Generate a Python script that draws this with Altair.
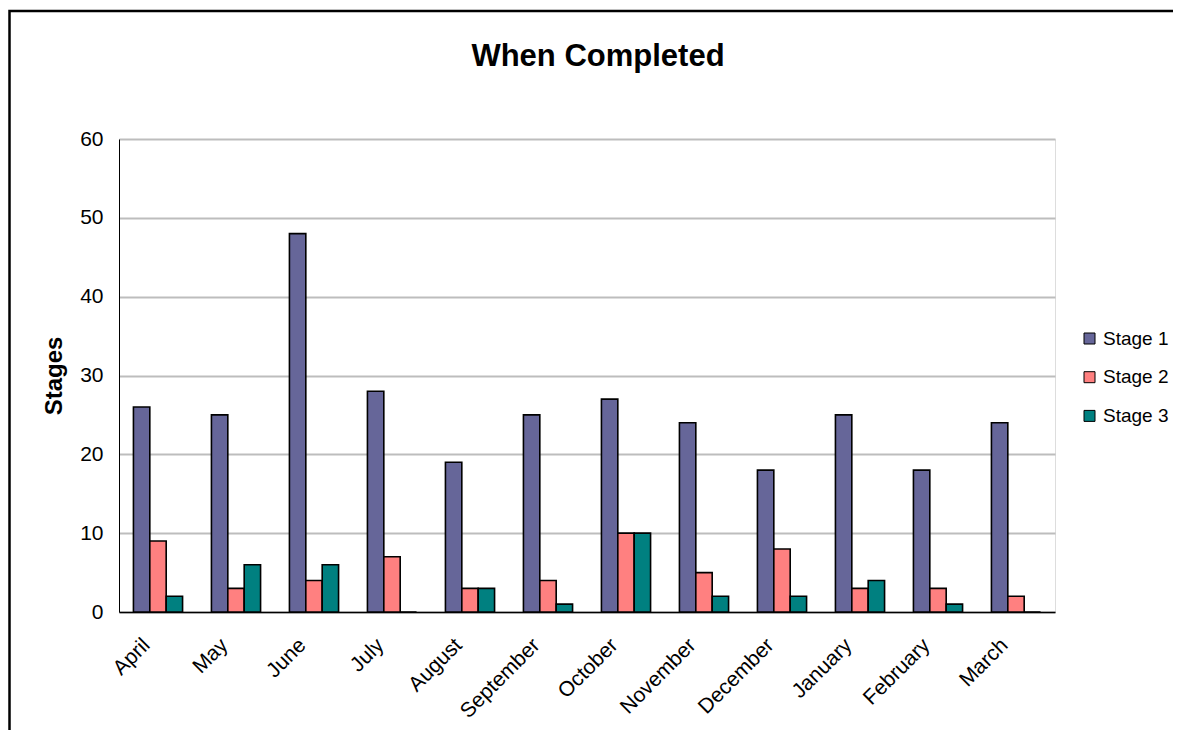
import altair as alt
import pandas as pd

months = ["April", "May", "June", "July", "August", "September", "October",
          "November", "December", "January", "February", "March"]
series = ["Stage 1", "Stage 2", "Stage 3"]
stage1 = [26, 25, 48, 28, 19, 25, 27, 24, 18, 25, 18, 24]
stage2 = [9, 3, 4, 7, 3, 4, 10, 5, 8, 3, 3, 2]
stage3 = [2, 6, 6, 0, 3, 1, 10, 2, 2, 4, 1, 0]
colors = ["#666699", "#FF8080", "#008080"]
y_ticks = [0, 10, 20, 30, 40, 50, 60]

rows = []
for name, vals in zip(series, [stage1, stage2, stage3]):
    for m, v in zip(months, vals):
        rows.append({"Month": m, "Stage": name, "Value": v})
df = pd.DataFrame(rows)

FONT = "Liberation Sans"
W, H = 936, 473

bars = alt.Chart(df).mark_bar(stroke="black", strokeWidth=1.6).encode(
    x=alt.X("Month:N", sort=months,
            scale=alt.Scale(paddingInner=0.37, paddingOuter=0.185),
            axis=alt.Axis(title=None, labelAngle=315, labelAlign="right",
                          labelBaseline="top", labelPadding=22, labelOffset=-19,
                          ticks=False, tickSize=0, grid=False,
                          domainColor="black", domainWidth=1.5,
                          labelFont=FONT, labelFontSize=21, labelColor="black")),
    xOffset=alt.XOffset("Stage:N", sort=series,
                        scale=alt.Scale(paddingInner=0, paddingOuter=0)),
    y=alt.Y("Value:Q", scale=alt.Scale(domain=[0, 60], nice=False),
            axis=alt.Axis(title="Stages", values=y_ticks, ticks=False, tickSize=0,
                          labelPadding=16, labelFont=FONT, labelFontSize=21,
                          labelColor="black", grid=True, gridColor="#BDBDBD",
                          gridWidth=2, domainColor="black", domainWidth=1,
                          titleFont=FONT, titleFontSize=24, titleFontWeight="bold",
                          titleColor="black", titleX=-58, titleY=H / 2,
                          titleBaseline="alphabetic", titleAngle=270)),
    color=alt.Color("Stage:N", sort=series,
                    scale=alt.Scale(domain=series, range=colors),
                    legend=alt.Legend(title=None, orient="none", legendX=961,
                                      legendY=190, symbolType="square",
                                      symbolSize=121, symbolStrokeColor="black",
                                      symbolStrokeWidth=1, labelFont=FONT,
                                      labelFontSize=19, labelColor="black",
                                      labelOffset=4, rowPadding=18.7, padding=0)),
)

border = alt.Chart(alt.Data(values=[{"k": 1}])).mark_rect(
    filled=False, stroke="black", strokeWidth=2.5
).encode(
    x=alt.value(-109.5), y=alt.value(-128), x2=alt.value(W + 200), y2=alt.value(H + 200)
)

# The border rect defines the top of the view bounds; the title is placed relative
# to it, so a negative offset brings it back down above the plot.
chart = alt.layer(border, bars).properties(
    width=W, height=H,
    title=alt.TitleParams("When Completed", font=FONT, fontSize=31, fontWeight="bold",
                          color="black", anchor="middle", frame="group", dx=11,
                          offset=-87, baseline="alphabetic"),
    padding={"left": 111, "top": 131, "right": 118, "bottom": 118},
    autosize=alt.AutoSizeParams(type="none"),
).configure_view(stroke=None).configure(background="white")

chart.save("out.html", embed_options={"renderer": "svg", "actions": False})
